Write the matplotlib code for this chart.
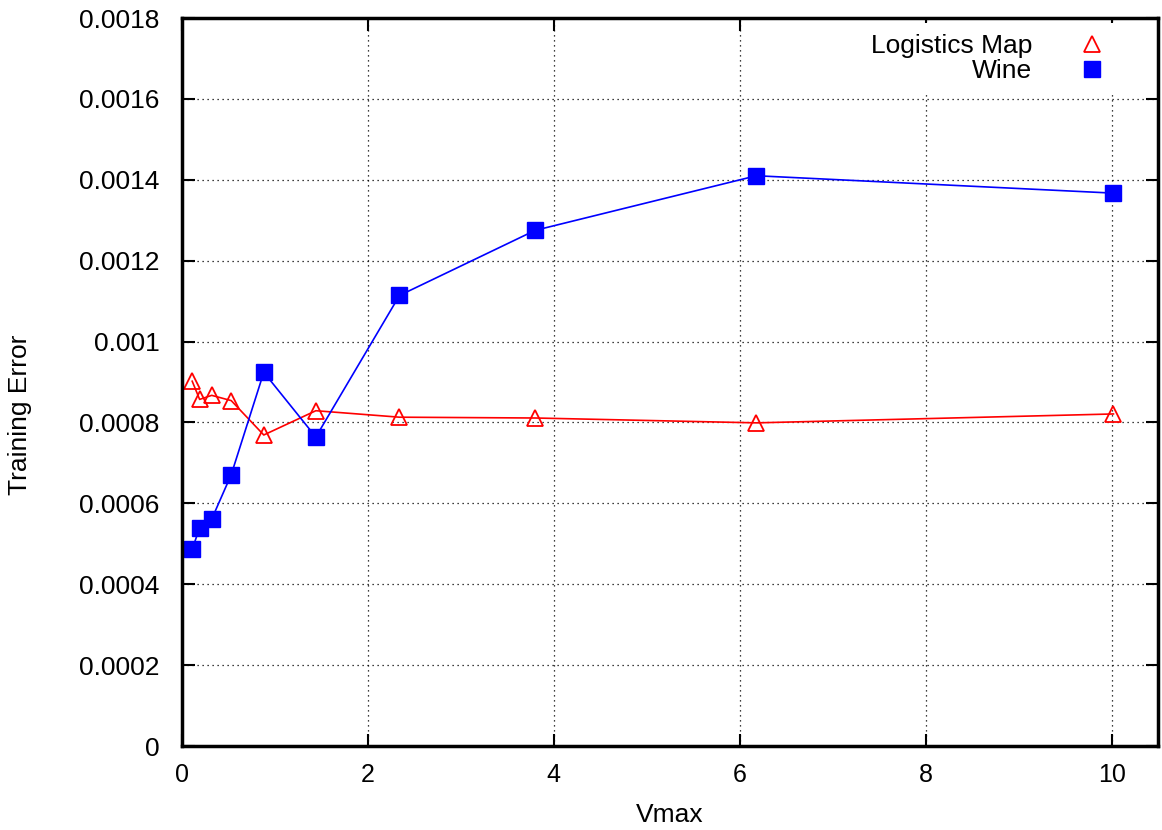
import matplotlib
matplotlib.use('Agg')
import matplotlib.pyplot as plt
from matplotlib.lines import Line2D

# Vmax values (x)
vmax = [0.11, 0.19, 0.32, 0.53, 0.88, 1.44, 2.34, 3.80, 6.18, 10.02]

# training error per data set
logistics_map = [0.000902, 0.000857, 0.000867, 0.000854, 0.000769, 0.000829, 0.000813, 0.000811, 0.000799, 0.000821]
wine = [0.000487, 0.000539, 0.000561, 0.000671, 0.000924, 0.000764, 0.001114, 0.001275, 0.001410, 0.001367]

xticks = [0, 2, 4, 6, 8, 10]
yticks = [0, 0.0002, 0.0004, 0.0006, 0.0008, 0.001, 0.0012, 0.0014, 0.0016, 0.0018]
ytick_labels = ['0', '0.0002', '0.0004', '0.0006', '0.0008', '0.001', '0.0012', '0.0014', '0.0016', '0.0018']

plt.rcParams['font.family'] = ['Liberation Sans', 'DejaVu Sans']

fig = plt.figure(figsize=(11.62, 8.30), dpi=100)
ax = fig.add_axes([0.1566, 0.1012, 0.84, 0.8771])

ax.plot(vmax, logistics_map, color='red', lw=1.2, marker='^', markersize=11,
        markerfacecolor='none', markeredgecolor='red', markeredgewidth=1.3)
ax.plot(vmax, wine, color='blue', lw=1.2, marker='s', markersize=11,
        markerfacecolor='blue', markeredgecolor='blue')

ax.set_xlim(0, 10.5)
ax.set_ylim(0, 0.0018)
ax.set_xticks(xticks)
ax.set_yticks(yticks)
ax.set_yticklabels(ytick_labels)
ax.tick_params(direction='in', length=9, width=1.5, top=True, right=True)
ax.tick_params(axis='y', labelsize=19, pad=16)
ax.tick_params(axis='x', labelsize=18, pad=12)

ax.grid(True, linestyle=(0, (1, 3)), color='black', lw=0.9)
for s in ax.spines.values():
    s.set_linewidth(2.5)

# axis titles placed like the gnuplot original
fig.text(20 / 1162, 0.5, 'Training Error', fontsize=19, rotation=90, ha='center', va='center')
fig.text(0.5 * (182 + 1158) / 1162, 1 - 815 / 830, 'Vmax', fontsize=19, ha='center', va='center')

handles = [
    Line2D([], [], linestyle='none', marker='^', markersize=11, markerfacecolor='none',
           markeredgecolor='red', markeredgewidth=1.3),
    Line2D([], [], linestyle='none', marker='s', markersize=11, markerfacecolor='blue',
           markeredgecolor='blue'),
]
leg = ax.legend(handles, ['Logistics Map', 'Wine'], loc='upper right', bbox_to_anchor=(0.982, 1.0),
                markerfirst=False, fontsize=19, frameon=True, framealpha=1, edgecolor='none',
                facecolor='white', handlelength=2.5, handletextpad=1.0, borderaxespad=0.2,
                labelspacing=0.05, fancybox=False, borderpad=0.4)
for t in leg.get_texts():
    t.set_ha('right')
leg._legend_box.align = 'right'

plt.savefig('out.png', dpi=100)
